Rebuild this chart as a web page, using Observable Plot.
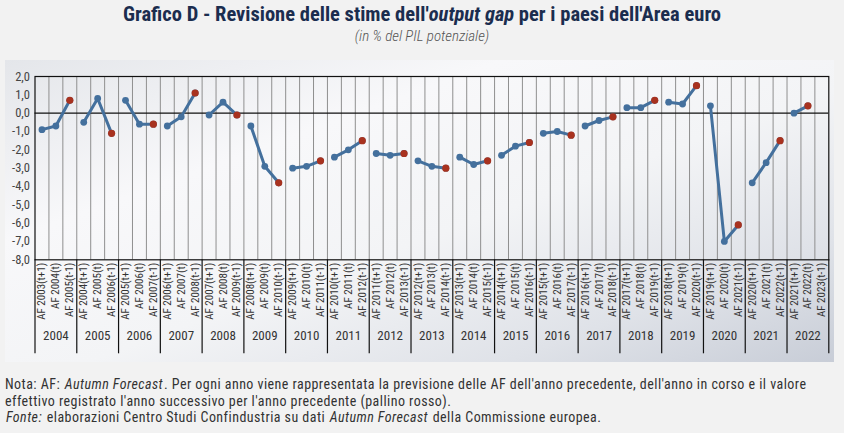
<!DOCTYPE html>
<html>
<head>
<meta charset="utf-8">
<script src="https://cdn.jsdelivr.net/npm/d3@7"></script>
<script src="https://cdn.jsdelivr.net/npm/@observablehq/plot@0.6"></script>
<style>
  html, body { margin: 0; padding: 0; }
  body { width: 844px; height: 433px; background: #f2f2f2; position: relative; overflow: hidden;
         font-family: "Roboto Condensed", "Liberation Sans Narrow", "DejaVu Sans Condensed", Roboto, sans-serif; font-stretch: condensed; }
  #title { position: absolute; top: 2px; left: 0; width: 844px; text-align: center; font-size: 20.5px; font-weight: bold; color: #1b2d4f; white-space: nowrap; }
  #subtitle { position: absolute; top: 27px; left: 0; width: 844px; text-align: center; font-size: 15px; font-style: italic; font-weight: 300; color: #555; }
  #panel { position: absolute; left: 5px; top: 60px; width: 829px; height: 302px;
           background: linear-gradient(160deg, #e4e6ea 0%, #f8f8fa 30%, #f3f4f6 55%, #dfe2e8 80%, #c8cdd7 100%); }
  #chart { position: absolute; left: 0; top: 60px; }
  #notes { position: absolute; left: 5px; top: 376px; width: 838px; font-size: 14px; letter-spacing: 0.45px; color: #333; line-height: 16.5px; }
  #notes div { white-space: nowrap; }
  #notes i { margin: 0 1px; }
</style>
</head>
<body>
<div id="title">Grafico D - Revisione delle stime dell'<i>output gap</i> per i paesi dell'Area euro</div>
<div id="subtitle">(in % del PIL potenziale)</div>
<div id="panel"></div>
<div id="chart"></div>
<div id="notes">
  <div>Nota: AF: <i>Autumn Forecast</i>. Per ogni anno viene rappresentata la previsione delle AF dell'anno precedente, dell'anno in corso e il valore</div>
  <div>effettivo registrato l'anno successivo per l'anno precedente (pallino rosso).</div>
  <div><i>Fonte:</i> elaborazioni Centro Studi Confindustria su dati <i>Autumn Forecast</i> della Commissione europea.</div>
</div>
<script>
const years = ["2004","2005","2006","2007","2008","2009","2010","2011","2012","2013","2014","2015","2016","2017","2018","2019","2020","2021","2022"];
const tickLabels = [
  "AF 2003(t+1)","AF 2004(t)","AF 2005(t-1)",
  "AF 2004(t+1)","AF 2005(t)","AF 2006(t-1)",
  "AF 2005(t+1)","AF 2006(t)","AF 2007(t-1)",
  "AF 2006(t+1)","AF 2007(t)","AF 2008(t-1)",
  "AF 2007(t+1)","AF 2008(t)","AF 2009(t-1)",
  "AF 2008(t+1)","AF 2009(t)","AF 2010(t-1)",
  "AF 2009(t+1)","AF 2010(t)","AF 2011(t-1)",
  "AF 2010(t+1)","AF 2011(t)","AF 2012(t-1)",
  "AF 2011(t+1)","AF 2012(t)","AF 2013(t-1)",
  "AF 2012(t+1)","AF 2013(t)","AF 2014(t-1)",
  "AF 2013(t+1)","AF 2014(t)","AF 2015(t-1)",
  "AF 2014(t+1)","AF 2015(t)","AF 2016(t-1)",
  "AF 2015(t+1)","AF 2016(t)","AF 2017(t-1)",
  "AF 2016(t+1)","AF 2017(t)","AF 2018(t-1)",
  "AF 2017(t+1)","AF 2018(t)","AF 2019(t-1)",
  "AF 2018(t+1)","AF 2019(t)","AF 2020(t-1)",
  "AF 2019(t+1)","AF 2020(t)","AF 2021(t-1)",
  "AF 2020(t+1)","AF 2021(t)","AF 2022(t-1)",
  "AF 2021(t+1)","AF 2022(t)","AF 2023(t-1)"
];
// forecast made the year before (t+1), forecast of the current year (t), value registered the following year (t-1)
const forecastPrevYear = [-0.9,-0.5, 0.7,-0.7,-0.1,-0.7,-3.0,-2.4,-2.2,-2.6,-2.4,-2.3,-1.1,-0.7, 0.3, 0.6, 0.4,-3.8, 0.0];
const forecastCurrYear = [-0.7, 0.8,-0.6,-0.2, 0.6,-2.9,-2.9,-2.0,-2.3,-2.9,-2.8,-1.8,-1.0,-0.4, 0.3, 0.5,-7.0,-2.7, 0.4];
const actualNextYear   = [ 0.7,-1.1,-0.6, 1.1,-0.1,-3.8,-2.6,-1.5,-2.2,-3.0,-2.6,-1.6,-1.2,-0.2, 0.7, 1.5,-6.1,-1.5, null];
const yTicks = [-8,-7,-6,-5,-4,-3,-2,-1,0,1,2];

const rows = [];
years.forEach((yr, i) => {
  [forecastPrevYear[i], forecastCurrYear[i], actualNextYear[i]].forEach((v, j) => {
    if (v !== null && v !== undefined) rows.push({year: yr, cat: tickLabels[i * 3 + j], value: v});
  });
});
const lastPoints = years.map(yr => rows.filter(r => r.year === yr).slice(-1)[0]);
const yearRows = years.map((yr, i) => ({year: yr, mid: tickLabels[i * 3 + 1], start: tickLabels[i * 3]}));

const W = 844, H = 302, ML = 34.5, MR = 15.7, MT = 16, MB = 102.7;
const bw = (W - ML - MR) / tickLabels.length;
const fmt = d => d3.format(".1f")(d).replace(".", ",").replace("\u2212", "-");
const FONT = "'Roboto Condensed','Liberation Sans Narrow','DejaVu Sans Condensed',Roboto,sans-serif";

const chart = Plot.plot({
  width: W, height: H,
  marginLeft: ML, marginRight: MR, marginTop: MT, marginBottom: MB,
  style: {background: "transparent", fontFamily: FONT, color: "#333"},
  x: {type: "band", domain: tickLabels, padding: 0, axis: null},
  y: {domain: [-8, 2], axis: null},
  marks: [
    Plot.ruleX(tickLabels.slice(1), {x: d => d, dx: -bw / 2, stroke: "#8f8f8f", strokeWidth: 1}),
    Plot.ruleX(yearRows, {x: "start", dx: -bw / 2, stroke: "#111", strokeWidth: 1.2, insetTop: H - MT - MB, insetBottom: -94}),
    Plot.ruleX([tickLabels[tickLabels.length - 1]], {x: d => d, dx: bw / 2, stroke: "#111", strokeWidth: 1.2, insetTop: H - MT - MB, insetBottom: -94}),
    Plot.ruleY([0], {stroke: "#111", strokeWidth: 1.2}),
    Plot.frame({stroke: "#111", strokeWidth: 1.2}),
    Plot.axisY({ticks: yTicks, tickFormat: fmt, tickSize: 0, tickPadding: 5, fontSize: 12.5, color: "#444", label: null}),
    Plot.axisX({tickRotate: -90, tickSize: 0, tickPadding: 3, fontSize: 11, color: "#333", label: null}),
    Plot.text(yearRows, {x: "mid", text: "year", frameAnchor: "bottom", dy: 80, fontSize: 13, fill: "#333"}),
    Plot.line(rows, {x: "cat", y: "value", z: "year", stroke: "#44709d", strokeWidth: 3, curve: "linear"}),
    Plot.dot(rows, {x: "cat", y: "value", r: 3.4, fill: "#44709d"}),
    Plot.dot(lastPoints, {x: "cat", y: "value", r: 3.6, fill: "#a8321f"})
  ]
});
document.getElementById("chart").appendChild(chart);
</script>
</body>
</html>
